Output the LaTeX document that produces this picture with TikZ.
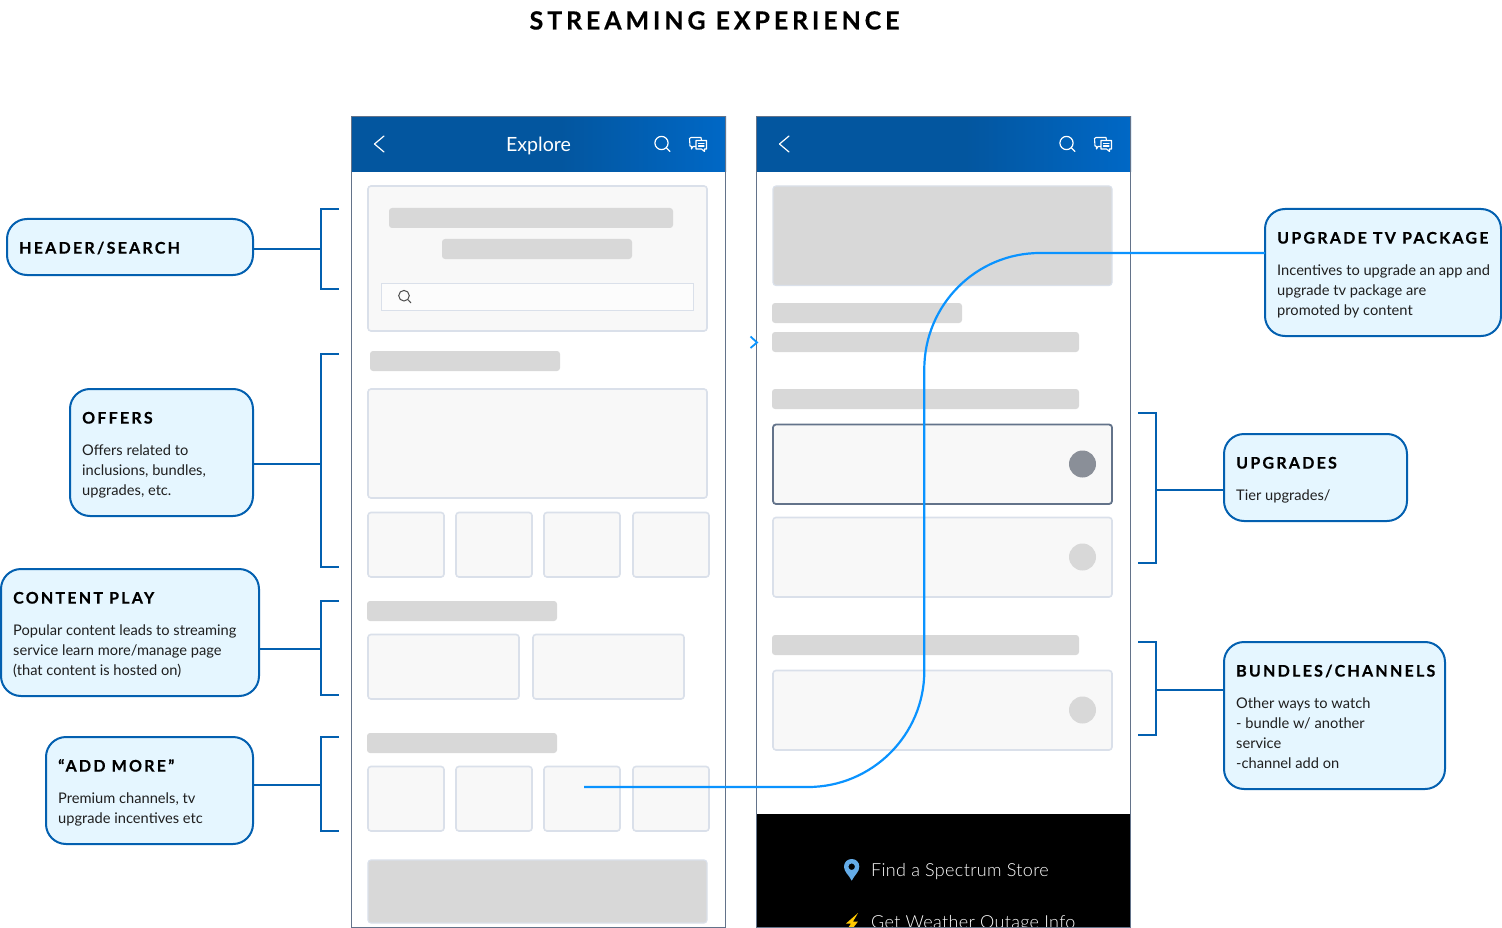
\documentclass[tikz,border=0pt]{standalone}
\usepackage{fontspec}
\setmainfont{Lato}
\newfontfamily\titlefont[LetterSpace=15.5,FakeBold=0.5]{Lato Bold}
\newfontfamily\headfont[LetterSpace=14,FakeBold=0.4]{Lato Bold}
\newfontfamily\footfont[LetterSpace=1.8]{Lato Light}
\definecolor{calloutfill}{HTML}{E5F6FF}
\definecolor{calloutline}{HTML}{0360B0}
\definecolor{phoneline}{HTML}{63738A}
\definecolor{cardfill}{HTML}{F8F8F8}
\definecolor{cardline}{HTML}{DAE0EA}
\definecolor{barfill}{HTML}{D8D8D8}
\definecolor{linkblue}{HTML}{0A93FF}
\definecolor{headleft}{HTML}{03569F}
\definecolor{headright}{HTML}{0068C6}
\definecolor{pinblue}{HTML}{64ACE8}
\definecolor{boltyellow}{HTML}{FFC800}
\tikzset{
  calloutbox/.style={draw=calloutline,fill=calloutfill,line width=2pt,rounded corners=20pt,inner sep=0,outer sep=0},
  callouthead/.style={anchor=base west,inner sep=0,font=\headfont\fontsize{16}{20}\selectfont,text=black},
  calloutbody/.style={anchor=north west,inner sep=0,align=left,font=\fontsize{14.65}{20}\selectfont,text=black!88},
  bracketline/.style={draw=calloutline,line width=2pt},
  cardbox/.style={draw=cardline,fill=cardfill,line width=1.6pt,rounded corners=3pt},
  selectbox/.style={draw=phoneline,fill=cardfill,line width=1.8pt,rounded corners=3pt},
  barbox/.style={fill=barfill,rounded corners=3pt},
  graybox/.style={draw=cardline,fill=barfill,line width=1.2pt,rounded corners=3pt},
  phoneframe/.style={draw=phoneline,line width=1.3pt},
  iconline/.style={draw=white,line width=1.2pt,line cap=round,line join=round},
  linkline/.style={draw=linkblue,line width=2.2pt}
}
\newcommand{\callout}[7]{%
  \node[calloutbox,minimum width={(#4-#2)*1pt},minimum height={(#5-#3)*1pt}] (#1) at ({(#2+#4)/2},{(#3+#5)/2}) {};
  \node[callouthead] (#1head) at ({#2+12},{#3+34.6}) {#6};
  \node[calloutbody] (#1body) at ({#2+12},{#3+54}) {\rule{0pt}{12pt}#7};
}
\newcommand{\phonehead}[1]{%
  \begin{scope}[xshift=#1pt]
    \fill[headleft] (351,117) rectangle (560,172);
    \shade[left color=headleft,right color=headright] (560,117) rectangle (726,172);
    \draw[iconline] (384,136) -- (374.5,144) -- (384,152);
    \draw[iconline] (661.5,143) circle[radius=6.6] (666.5,148) -- (670,151.5);
    \draw[iconline,line width=1.1pt] (691,137.5) -- (701,137.5) -- (701.5,140.5) (695.5,146.5) -- (693,146.5) -- (691.5,149) -- (691.5,146.5) -- (690,146) -- (689.5,138.5) -- (691,137.5);
    \draw[iconline,line width=1.1pt] (696,140.5) -- (706.5,140.5) -- (706.5,149) -- (704.5,149) -- (704.5,151.5) -- (701.5,149) -- (696,149) -- cycle;
    \draw[iconline,line width=1.1pt] (698.5,143.5) -- (704,143.5) (698.5,146) -- (704,146);
  \end{scope}
}
\begin{document}
\begin{tikzpicture}[x=1pt,y=-1pt]
\useasboundingbox (0,0) rectangle (1502,928);
\clip (0,0) rectangle (1502,928);

\node[anchor=base,inner sep=0,font=\titlefont\fontsize{25}{30}\selectfont,text=black] (title) at (714.5,29.5) {STREAMING EXPERIENCE};

% left phone
\fill[white] (351.5,116.5) rectangle (725.5,927.5);
\phonehead{0}
\node[anchor=base,inner sep=0,text=white,font=\fontsize{19.6}{22}\selectfont] (explore) at (538.5,151.5) {Explore};
\draw[cardbox] (368,186) rectangle (707,331);
\fill[barbox] (389,208) rectangle (673,228);
\fill[barbox] (442,239) rectangle (632,259);
\draw[draw=cardline,fill=white!60!cardfill,line width=1pt] (381.5,283.5) rectangle (693.5,310);
\draw[draw=black!70,line width=1pt] (404,295.7) circle[radius=5.3] (408,299.7) -- (411,303);
\fill[barbox] (370,351) rectangle (560,371);
\draw[cardbox] (368,389) rectangle (707,498);
\foreach \xa/\xb in {368/444,456/532,544/620,633/709}{
  \draw[cardbox] (\xa,512.5) rectangle (\xb,577);
  \draw[cardbox] (\xa,766.5) rectangle (\xb,831);
}
\fill[barbox] (367,601) rectangle (557,621);
\draw[cardbox] (368,634.5) rectangle (519,699);
\draw[cardbox] (533,634.5) rectangle (684,699);
\fill[barbox] (367,733) rectangle (557,753);
\draw[graybox] (368,860) rectangle (707,923);
\draw[phoneframe] (351.5,116.5) rectangle (725.5,927.5);

% right phone
\phonehead{405}
\draw[graybox] (773,186) rectangle (1112,285.5);
\fill[barbox] (772,303) rectangle (962,323);
\fill[barbox] (772,332) rectangle (1079,352);
\fill[barbox] (772,389) rectangle (1079,409);
\draw[selectbox] (773,424.5) rectangle (1112,504);
\fill[fill=black!40!phoneline!60!white] (1082.5,464) circle[radius=13.5];
\draw[cardbox] (773,517.5) rectangle (1112,597);
\fill[barfill] (1082.5,557) circle[radius=13.5];
\fill[barbox] (772,635) rectangle (1079,655);
\draw[cardbox] (773,670.5) rectangle (1112,750);
\fill[barfill] (1082.5,710) circle[radius=13.5];
\fill[black] (757,814) rectangle (1130,928);
\node[anchor=base west,inner sep=0,text=white,font=\footfont\fontsize{18}{22}\selectfont] (store) at (871,876.5) {Find a Spectrum Store};
\node[anchor=base west,inner sep=0,text=white,font=\footfont\fontsize{18}{22}\selectfont] (weather) at (871,928) {Get Weather Outage Info};
\fill[pinblue,even odd rule] (851.7,880.7) .. controls (849,875) and (844,872) .. (844,866.7) .. controls (844,862) and (847.5,859) .. (851.7,859) .. controls (856,859) and (859.3,862) .. (859.3,866.7) .. controls (859.3,872) and (854.5,875) .. (851.7,880.7) -- cycle (851.7,866.7) circle[radius=3.3];
\fill[boltyellow] (858,913) -- (846,923.5) -- (851,923.5) -- (848,928) -- (853,928) -- (858,921.5) -- (853,921.5) -- cycle;
\draw[phoneframe] (756.5,116.5) rectangle (1130.5,927.5);

% small chevron at the second phone edge
\draw[draw=linkblue,line width=1.8pt] (750.5,336.5) -- (757,342.5) -- (750.5,348);

% callouts
\callout{hdr}{7}{219}{253}{275}{HEADER/SEARCH}{}
\callout{off}{70}{389}{253}{516}{OFFERS}{Offers related to\\inclusions, bundles,\\upgrades, etc.}
\callout{con}{1}{569}{259}{696}{CONTENT PLAY}{Popular content leads to streaming\\service learn more/manage page\\(that content is hosted on)}
\callout{add}{46}{737}{253}{844}{“ADD MORE”}{Premium channels, tv\\upgrade incentives etc}
\callout{tvp}{1265}{209}{1501}{336}{UPGRADE TV PACKAGE}{Incentives to upgrade an app and\\upgrade tv package are\\promoted by content}
\callout{upg}{1224}{434}{1407}{521}{UPGRADES}{Tier upgrades/}
\callout{bun}{1224}{642}{1445}{789}{BUNDLES/CHANNELS}{Other ways to watch\\- bundle w/ another\\service\\-channel add on}

% brackets
\coordinate (bh) at (321,249.5);
\coordinate (bo) at (321,464);
\coordinate (bc) at (321,649);
\coordinate (ba) at (321,785);
\coordinate (bu) at (1156,490);
\coordinate (bb) at (1156,689.5);
\draw[bracketline] (339,209) -- (321,209) -- (321,289) -- (339,289);
\draw[bracketline] (339,354) -- (321,354) -- (321,567) -- (339,567);
\draw[bracketline] (339,601) -- (321,601) -- (321,695) -- (339,695);
\draw[bracketline] (339,737) -- (321,737) -- (321,831) -- (339,831);
\draw[bracketline] (1138,413) -- (1156,413) -- (1156,563) -- (1138,563);
\draw[bracketline] (1138,642) -- (1156,642) -- (1156,735) -- (1138,735);
\draw[bracketline] (hdr.east |- bh) -- (bh);
\draw[bracketline] (off.east |- bo) -- (bo);
\draw[bracketline] (con.east |- bc) -- (bc);
\draw[bracketline] (add.east |- ba) -- (ba);
\draw[bracketline] (upg.west |- bu) -- (bu);
\draw[bracketline] (bun.west |- bb) -- (bb);

% link curve
\coordinate (linkstart) at (584,787);
\coordinate (linkend) at (1040,253);
\draw[linkline] (linkstart) -- (808,787) .. controls (872,787) and (924.3,735) .. (924.3,671) -- (924.3,369) .. controls (924.3,305) and (976,253) .. (linkend) -- (tvp.west |- linkend);
\end{tikzpicture}
\end{document}
